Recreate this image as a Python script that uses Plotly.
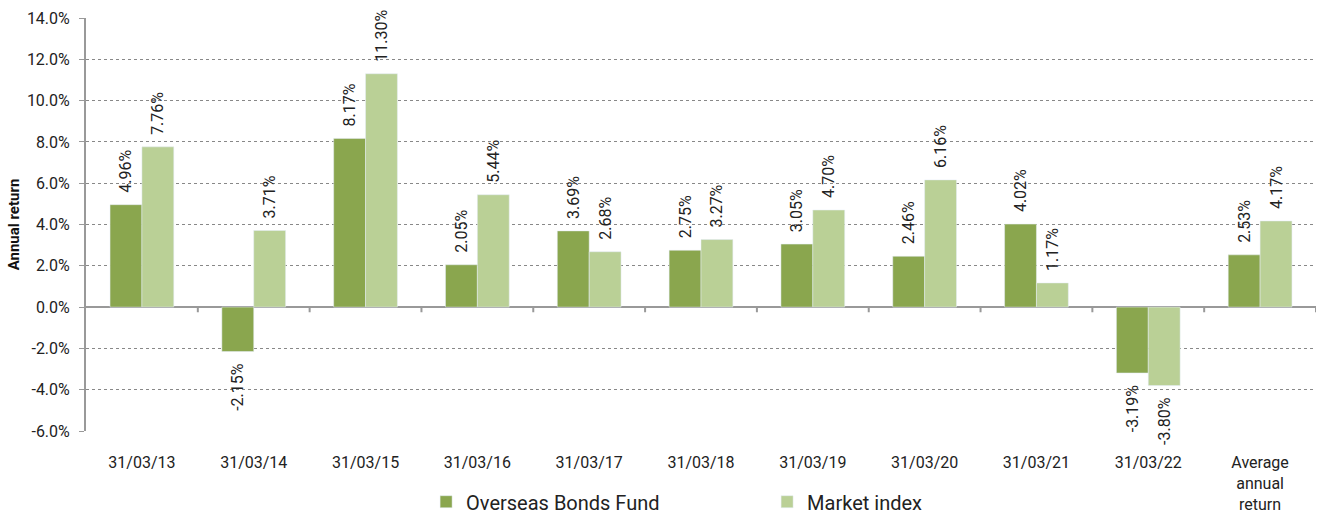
import plotly.graph_objects as go

categories = ["31/03/13", "31/03/14", "31/03/15", "31/03/16", "31/03/17", "31/03/18",
              "31/03/19", "31/03/20", "31/03/21", "31/03/22", "Average<br>annual<br>return"]
fund = [4.96, -2.15, 8.17, 2.05, 3.69, 2.75, 3.05, 2.46, 4.02, -3.19, 2.53]
index = [7.76, 3.71, 11.30, 5.44, 2.68, 3.27, 4.70, 6.16, 1.17, -3.80, 4.17]
yticks = [-6, -4, -2, 0, 2, 4, 6, 8, 10, 12, 14]

FONT = "Roboto"
SP = "\u2007"


def label(v):
    s = f"{v:.2f}%"
    return SP + s if v >= 0 else s + SP


fig = go.Figure()
for name, vals, col in [("Overseas Bonds Fund", fund, "#8AA64E"),
                        ("Market index", index, "#BAD096")]:
    fig.add_trace(go.Bar(
        x=list(range(len(categories))), y=vals, name=name, marker_color=col,
        text=[label(v) for v in vals], textposition="outside", textangle=-90,
        textfont=dict(family=FONT, size=16, color="#222"), cliponaxis=False,
        constraintext="none",
    ))

shapes = []
for i in range(len(categories)):
    shapes.append(dict(type="line", xref="x", yref="y", x0=i + 0.5, x1=i + 0.5,
                       y0=0, y1=-0.25, line=dict(color="#999", width=2)))

fig.update_layout(
    width=1319, height=516, autosize=False, barmode="group", bargap=0.43, bargroupgap=0,
    plot_bgcolor="white", paper_bgcolor="white",
    margin=dict(l=86, r=3, t=18, b=85, autoexpand=False),
    font=dict(family=FONT, size=13, color="#222"),
    shapes=shapes, uniformtext=dict(mode=False),
    xaxis=dict(tickmode="array", tickvals=list(range(len(categories))), ticktext=categories,
               range=[-0.5, len(categories) - 0.5], showgrid=False, showline=False,
               ticks="", tickfont=dict(size=16, color="#222"), automargin=False,
               ticklabelstandoff=20),
    yaxis=dict(range=[-6, 14], tickvals=yticks, ticktext=[f"{v:.1f}%" for v in yticks],
               showgrid=True, gridcolor="#888", griddash="dot", gridwidth=1,
               zeroline=True, zerolinecolor="#999", zerolinewidth=2,
               showline=True, linecolor="#999", linewidth=2,
               ticks="outside", ticklen=5, tickcolor="#999",
               tickfont=dict(size=16, color="#222"), automargin=False,
               ticklabelstandoff=6,
               title=dict(text="<b>Annual return</b>", font=dict(size=15, color="#111"), standoff=4)),
    legend=dict(orientation="h", x=0.2765, xanchor="left", y=-0.124, yanchor="top",
                entrywidth=296, entrywidthmode="pixels", font=dict(size=20, color="#222"),
                itemwidth=30, traceorder="normal"),
)
post = """
document.documentElement.style.margin='0';
document.body.style.margin='0';
document.body.style.padding='0';
document.body.style.overflow='hidden';
var gd=document.getElementById('{plot_id}');
gd.style.width='1319px'; gd.style.height='516px';
Plotly.relayout(gd,{width:1319,height:516});
"""
fig.write_html("out.html", post_script=post,
               config={"responsive": False, "displayModeBar": False},
               default_width="1319px", default_height="516px")
